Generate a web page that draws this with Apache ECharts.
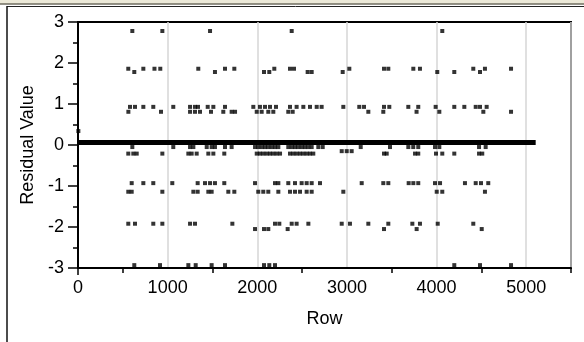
<!DOCTYPE html>
<html>
<head>
<meta charset="utf-8">
<script src="https://cdn.jsdelivr.net/npm/echarts@6/dist/echarts.min.js"></script>
<style>
html,body{margin:0;padding:0;background:#fff;}
#chart{width:584px;height:342px;}
</style>
</head>
<body>
<div id="chart"></div>
<script>
// ---- data ----
const xTickLabels = [0, 1000, 2000, 3000, 4000, 5000];
const yTickLabels = [-3, -2, -1, 0, 1, 2, 3];

// predicted-level line (dense run of residuals near zero)
const fitLine = [[0, 0.06], [5106, 0.06]];
const outlierPoint = [[4, 0.34]];

// residual level 2.78
const xAt278 = [606, 941, 1473, 2384, 4064];
// level ~1.86 / 1.78
const xAt186 = [561, 729, 853, 918, 1342, 1640, 1744, 2190, 2365, 2410, 3027, 3414, 3462, 3741, 3815, 4410, 4540, 4831];
const xAt178 = [628, 1528, 2075, 2134, 2562, 2607, 2953, 4008, 4198, 4485];
// level ~0.93 / 0.81
const xAt093 = [580, 636, 729, 840, 1063, 1250, 1305, 1339, 1447, 1510, 1640, 1956, 2030, 2086, 2142, 2209, 2365, 2439, 2514, 2588, 2663, 2718, 2960, 3138, 3191, 3414, 3473, 3685, 3796, 3990, 4198, 4310, 4437, 4485, 4559];
const xAt081 = [562, 926, 1250, 1305, 1361, 1484, 1621, 1714, 1752, 1994, 2049, 2123, 2179, 2346, 2395, 3239, 3406, 3777, 4031, 4522, 4831];
// level ~-0.05 / -0.15 / -0.21
const xAtM005 = [606, 1063, 1250, 1287, 1436, 1491, 1528, 1640, 1714, 1975, 2011, 2049, 2086, 2123, 2160, 2198, 2235, 2346, 2384, 2421, 2458, 2495, 2532, 2570, 2607, 2681, 2730, 3154, 3481, 3685, 3740, 3796, 3983, 4031, 4474, 4548];
const xAtM015 = [2942, 2998, 3053];
const xAtM021 = [561, 617, 655, 941, 1231, 1268, 1324, 1454, 1510, 1632, 1994, 2030, 2067, 2105, 2142, 2179, 2216, 2254, 2365, 2402, 2439, 2477, 2514, 2551, 2588, 2625, 3414, 3444, 3760, 3796, 3994, 4064, 4198, 4474, 4510];
// level ~-0.93 / -1.14
const xAtM093 = [599, 729, 840, 1052, 1335, 1417, 1473, 1528, 1632, 1975, 2198, 2235, 2346, 2421, 2495, 2551, 2607, 2700, 3165, 3406, 3462, 3689, 3741, 3796, 3983, 4039, 4317, 4437, 4496, 4577];
const xAtM114 = [561, 599, 941, 1287, 1335, 1454, 1491, 1677, 1744, 2011, 2067, 2123, 2235, 2365, 2421, 2477, 2551, 2607, 2960, 4002, 4064, 4540];
// level ~-1.92 / -2.05
const xAtM192 = [561, 636, 840, 941, 1250, 1305, 1722, 2198, 2246, 2384, 2439, 2570, 2942, 3034, 3239, 3462, 3730, 3815, 4013, 4410];
const xAtM205 = [1975, 2075, 2123, 2339, 3414, 3778, 4504];
// level ~-2.93
const xAtM293 = [628, 915, 1231, 1313, 1491, 1640, 2075, 2134, 2198, 4198, 4485, 4831];

const levelRows = [
  [xAt278, 2.78], [xAt186, 1.86], [xAt178, 1.78], [xAt093, 0.93], [xAt081, 0.81],
  [xAtM005, -0.05], [xAtM015, -0.15], [xAtM021, -0.21], [xAtM093, -0.93], [xAtM114, -1.14],
  [xAtM192, -1.92], [xAtM205, -2.05], [xAtM293, -2.93]
];
const points = [];
levelRows.forEach(([xs, y]) => xs.forEach(x => points.push([x, y])));
outlierPoint.forEach(p => points.push(p));

const FONT = '"Liberation Sans", Arial, sans-serif';
const chart = echarts.init(document.getElementById('chart'), null, {renderer: 'canvas'});
chart.setOption({
  animation: false,
  backgroundColor: '#fff',
  grid: {left: 78, top: 22, right: 13, bottom: 74, show: true, borderColor: '#000', borderWidth: 2, backgroundColor: 'transparent'},
  xAxis: {
    type: 'value', min: 0, max: 5500, interval: 1000,
    name: 'Row', nameLocation: 'middle', nameGap: 42,
    nameTextStyle: {color: '#000', fontFamily: FONT, fontSize: 18},
    axisLine: {show: true, onZero: false, lineStyle: {color: '#000', width: 2}},
    axisTick: {show: false},
    minorTick: {show: true, splitNumber: 2, length: 5, lineStyle: {color: '#000', width: 1.5}},
    axisLabel: {color: '#000', fontFamily: FONT, fontSize: 18, margin: 11,
      formatter: v => (xTickLabels.indexOf(v) >= 0 ? String(v) : '')},
    splitLine: {show: true, lineStyle: {color: '#d6d6d6', width: 1.5}},
    minorSplitLine: {show: false}
  },
  yAxis: {
    type: 'value', min: -3, max: 3, interval: 1,
    name: 'Residual Value', nameLocation: 'middle', nameGap: 39, nameRotate: 90,
    nameTextStyle: {color: '#000', fontFamily: FONT, fontSize: 18},
    axisLine: {show: true, onZero: false, lineStyle: {color: '#000', width: 2}},
    axisTick: {show: true, length: 10, lineStyle: {color: '#000', width: 1.5}},
    minorTick: {show: true, splitNumber: 2, length: 5, lineStyle: {color: '#000', width: 1.5}},
    axisLabel: {color: '#000', fontFamily: FONT, fontSize: 18, margin: 14,
      formatter: v => (yTickLabels.indexOf(v) >= 0 ? String(v) : '')},
    splitLine: {show: false}
  },
  series: [
    {type: 'line', data: fitLine, showSymbol: false, symbol: 'none',
     lineStyle: {color: '#000', width: 5}, z: 3, silent: true},
    {type: 'scatter', data: points, symbol: 'rect', symbolSize: 4,
     itemStyle: {color: '#000'}, z: 4, silent: true}
  ],
  graphic: [
    {type: 'rect', shape: {x: 0, y: 0, width: 584, height: 4}, style: {fill: '#ece9d8'}, silent: true},
    {type: 'line', shape: {x1: 0, y1: 4, x2: 584, y2: 4}, style: {stroke: '#6f6d60', lineWidth: 1.5}, silent: true},
    {type: 'line', shape: {x1: 7, y1: 6.5, x2: 584, y2: 6.5}, style: {stroke: '#222', lineWidth: 1}, silent: true},
    {type: 'line', shape: {x1: 7, y1: 6, x2: 7, y2: 342}, style: {stroke: '#111', lineWidth: 1.5}, silent: true},
    {type: 'line', shape: {x1: 78, y1: 268, x2: 78, y2: 275}, style: {stroke: '#000', lineWidth: 1.5}, silent: true},
    {type: 'line', shape: {x1: 571, y1: 268, x2: 571, y2: 273}, style: {stroke: '#000', lineWidth: 1.5}, silent: true}
  ]
});
</script>
</body>
</html>
